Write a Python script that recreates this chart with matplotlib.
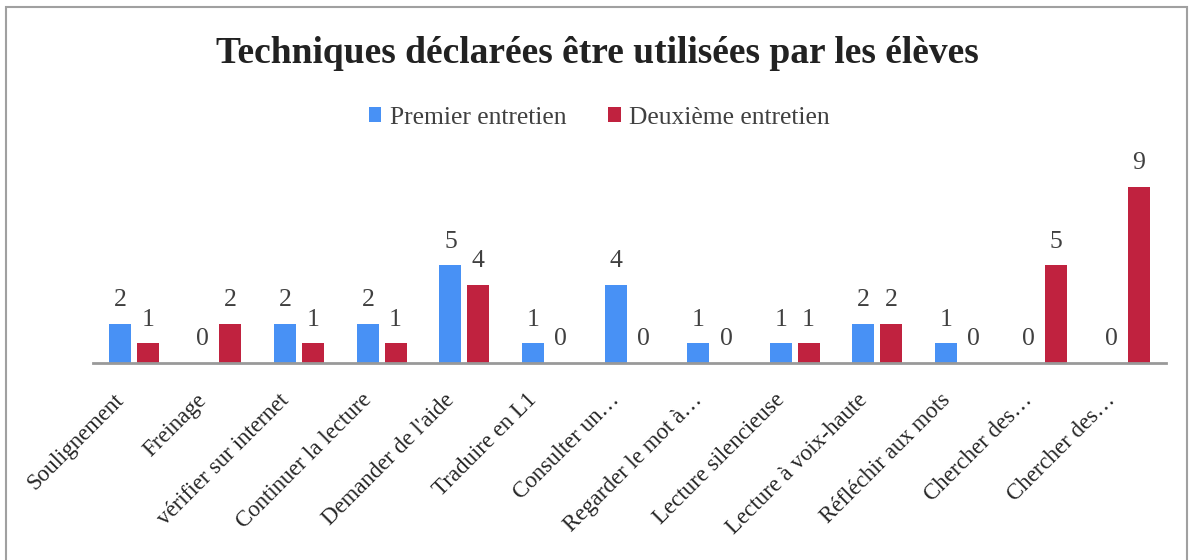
import matplotlib.pyplot as plt
import matplotlib.patches as patches
import matplotlib.transforms as mtransforms
import numpy as np

categories = ["Soulignement", "Freinage", "vérifier sur internet", "Continuer la lecture",
              "Demander de l'aide", "Traduire en L1", "Consulter un…", "Regarder le mot à…",
              "Lecture silencieuse", "Lecture à voix-haute", "Réfléchir aux mots",
              "Chercher des…", "Chercher des…"]
premier = [2, 0, 2, 2, 5, 1, 4, 1, 1, 2, 1, 0, 0]
deuxieme = [1, 2, 1, 1, 4, 0, 0, 0, 1, 2, 0, 5, 9]

plt.rcParams['font.family'] = ['Liberation Serif', 'DejaVu Serif']

fig = plt.figure(figsize=(11.94, 5.6), dpi=100)
ax = fig.add_axes([0.0776, 0.3518, 0.8992, 0.3492])

# cadre gris autour du graphique
fig.patches.append(patches.Rectangle((6 / 1194, -0.05), 1181 / 1194, 1.05 - 7 / 560,
                                     transform=fig.transFigure, fill=False,
                                     edgecolor='#a0a0a0', lw=1.5))

x = np.arange(len(categories))
w = 0.266
off = 0.168
b1 = ax.bar(x - off, premier, w, color='#4891F5', label='Premier entretien')
b2 = ax.bar(x + off, deuxieme, w, color='#C0223F', label='Deuxième entretien')

for bars, vals in ((b1, premier), (b2, deuxieme)):
    for r, v in zip(bars, vals):
        ax.annotate(str(v), (r.get_x() + r.get_width() / 2, v), xytext=(0, 9),
                    textcoords='offset points', ha='center', va='bottom',
                    fontsize=18.5, color='#404040')

ax.set_xlim(-0.5, len(categories) - 0.5)
ax.set_ylim(0, 10)
ax.set_yticks([])
ax.set_xticks(x)
ax.set_xticklabels(categories, rotation=45, ha='right', va='center',
                   rotation_mode='anchor', fontsize=16.5, color='#262626')
ax.tick_params(axis='x', length=0, pad=16)
shift = mtransforms.ScaledTranslation(-0.13, -0.12, fig.dpi_scale_trans)
for lab in ax.get_xticklabels():
    lab.set_transform(lab.get_transform() + shift)
for s in ('top', 'right', 'left'):
    ax.spines[s].set_visible(False)
ax.spines['bottom'].set_color('#999999')
ax.spines['bottom'].set_linewidth(2)

fig.text(0.5, 0.905, "Techniques déclarées être utilisées par les élèves",
         ha='center', va='center', fontsize=27, fontweight='bold', color='#222222')
fig.legend(handles=[b1, b2], loc='center', bbox_to_anchor=(0.502, 0.79), ncol=2,
           frameon=False, fontsize=18.4, handlelength=0.5, handleheight=0.5,
           handletextpad=0.35, columnspacing=1.6, labelcolor='#404040')

fig.savefig("out.png", dpi=100)
